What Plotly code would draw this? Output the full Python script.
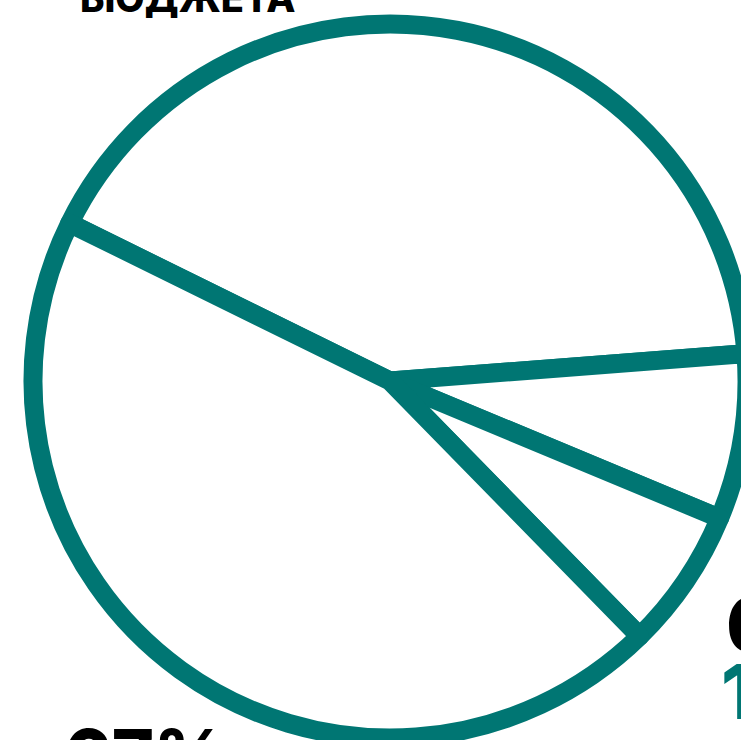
import plotly.graph_objects as go

# Slice shares (clockwise from the upper-left divider)
slice_labels = ["Сектор A", "Сектор B", "Сектор C", "Сектор D"]
slice_values = [41.5, 7.5, 6.4, 44.6]

title_text = "БЮДЖЕТА"
label_left = "67%"
label_right = "6%"
label_right_sub = "1"

TEAL = "#007673"
W, H = 770, 740
cx, cy, r = 390, 381, 357

fig = go.Figure(go.Pie(
    labels=slice_labels,
    values=slice_values,
    sort=False,
    direction="clockwise",
    rotation=-63.8,
    textinfo="none",
    hoverinfo="skip",
    showlegend=False,
    marker=dict(colors=["#ffffff"] * 4, line=dict(color=TEAL, width=19)),
    domain=dict(x=[(cx - r) / W, (cx + r) / W], y=[1 - (cy + r) / H, 1 - (cy - r) / H]),
))

def px(x):
    return x / W

def py(y):
    return 1 - y / H

font_family = "Inter"
fig.add_annotation(text=title_text, x=px(78), y=py(-2), xref="paper", yref="paper",
                   xanchor="left", yanchor="middle", showarrow=False,
                   font=dict(family=font_family, size=38, color="#000000", weight=800))
fig.add_annotation(text=label_left, x=px(62), y=py(754), xref="paper", yref="paper",
                   xanchor="left", yanchor="middle", showarrow=False,
                   font=dict(family=font_family, size=72, color="#000000", weight=800))
fig.add_annotation(text=label_right, x=px(724), y=py(624), xref="paper", yref="paper",
                   xanchor="left", yanchor="middle", showarrow=False,
                   font=dict(family=font_family, size=76, color="#000000", weight=800))
fig.add_annotation(text=label_right_sub, x=px(719), y=py(691), xref="paper", yref="paper",
                   xanchor="left", yanchor="middle", showarrow=False,
                   font=dict(family=font_family, size=76, color=TEAL, weight=800))

fig.update_layout(
    width=W, height=H,
    margin=dict(l=0, r=0, t=0, b=0),
    paper_bgcolor="#ffffff", plot_bgcolor="#ffffff",
)

fig.write_html(
    "out.html",
    config={"displayModeBar": False},
    post_script="document.documentElement.style.overflow='hidden';"
                "document.body.style.overflow='hidden';"
                "document.body.style.margin='0';",
)
